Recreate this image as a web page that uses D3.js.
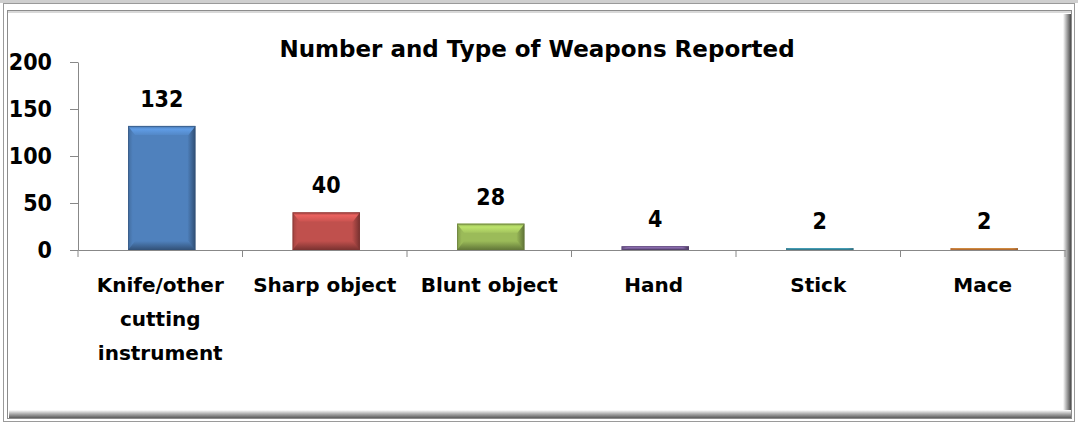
<!DOCTYPE html>
<html>
<head>
<meta charset="utf-8">
<script src="https://cdn.jsdelivr.net/npm/d3@7"></script>
<style>
  html, body { margin: 0; padding: 0; background: #ffffff; }
  svg { display: block; }
</style>
</head>
<body>
<svg id="chart" width="1078" height="424"></svg>
<script>
// Weapon categories and their reported counts
const categories = ["Knife/other cutting instrument", "Sharp object", "Blunt object", "Hand", "Stick", "Mace"];
const labelLines = [["Knife/other", "cutting", "instrument"], ["Sharp object"], ["Blunt object"], ["Hand"], ["Stick"], ["Mace"]];
const counts = [132, 40, 28, 4, 2, 2];
const yTicks = [0, 50, 100, 150, 200];
const barColors = ["#4F81BD", "#C0504D", "#9BBB59", "#8064A2", "#4BACC6", "#F79646"];
const chartTitle = "Number and Type of Weapons Reported";

const W = 1078, H = 424;
const svg = d3.select("#chart");
const defs = svg.append("defs");

// ---- frame ----
svg.append("rect").attr("x", 0).attr("y", 0).attr("width", W).attr("height", 3).attr("fill", "#cfcfcf");
svg.append("rect").attr("x", 3.5).attr("y", 3.5).attr("width", W - 7).attr("height", H - 6)
  .attr("fill", "#ffffff").attr("stroke", "#9a9a9a");

const shR = defs.append("linearGradient").attr("id", "shR").attr("x1", 0).attr("x2", 1).attr("y1", 0).attr("y2", 0);
shR.append("stop").attr("offset", "0%").attr("stop-color", "#ffffff");
shR.append("stop").attr("offset", "55%").attr("stop-color", "#9a9a9a");
shR.append("stop").attr("offset", "100%").attr("stop-color", "#4a4a4a");
const shB = defs.append("linearGradient").attr("id", "shB").attr("x1", 0).attr("x2", 0).attr("y1", 0).attr("y2", 1);
shB.append("stop").attr("offset", "0%").attr("stop-color", "#ffffff");
shB.append("stop").attr("offset", "55%").attr("stop-color", "#a0a0a0");
shB.append("stop").attr("offset", "100%").attr("stop-color", "#5a5a5a");

const panel = { x: 7, y: 10, w: 1064, h: 408 };
svg.append("rect").attr("x", panel.x + 0.5).attr("y", panel.y + 0.5)
  .attr("width", panel.w).attr("height", panel.h)
  .attr("fill", "#ffffff").attr("stroke", "#8c8c8c");
svg.append("rect").attr("x", panel.x + 1).attr("y", panel.y + 1).attr("width", panel.w - 1).attr("height", 2).attr("fill", "#d8d8d8");
svg.append("rect").attr("x", panel.x + panel.w - 8).attr("y", panel.y + 4).attr("width", 8).attr("height", panel.h - 4).attr("fill", "url(#shR)");
svg.append("rect").attr("x", panel.x + 2).attr("y", panel.y + panel.h - 8).attr("width", panel.w - 2).attr("height", 8).attr("fill", "url(#shB)");

// ---- scales ----
const plot = { left: 78, right: 1065, top: 62, bottom: 250 };
const x = d3.scaleBand().domain(categories).range([plot.left, plot.right]).padding(0);
const y = d3.scaleLinear().domain([0, 200]).range([plot.bottom, plot.top]);

const axisColor = "#888888";
const numFont = "'DejaVu Sans Condensed', 'DejaVu Sans', sans-serif";
const catFont = "'DejaVu Sans', sans-serif";

// ---- y axis ----
const yAxis = svg.append("g").attr("transform", `translate(${plot.left},0)`)
  .call(d3.axisLeft(y).tickValues(yTicks).tickSize(8).tickPadding(18).tickSizeOuter(0));
yAxis.select(".domain").attr("stroke", axisColor);
yAxis.selectAll(".tick line").attr("stroke", axisColor);
yAxis.selectAll(".tick text")
  .attr("fill", "#000").attr("font-family", numFont).attr("font-weight", "bold").attr("font-size", 23);

// ---- x axis ----
const xAxis = svg.append("g").attr("transform", `translate(0,${plot.bottom})`)
  .call(d3.axisBottom(x).tickSize(0).tickSizeOuter(0).tickFormat(""));
xAxis.select(".domain").attr("stroke", axisColor);
const boundaries = d3.range(categories.length + 1).map(i => plot.left + i * x.step());
xAxis.selectAll("line.sep").data(boundaries).join("line").attr("class", "sep")
  .attr("x1", d => d).attr("x2", d => d).attr("y1", 0).attr("y2", 7)
  .attr("stroke", axisColor);

// category labels
const catG = svg.append("g");
categories.forEach((c, i) => {
  const t = catG.append("text")
    .attr("x", x(c) + x.bandwidth() / 2)
    .attr("y", 292)
    .attr("text-anchor", "middle")
    .attr("font-family", catFont).attr("font-weight", "bold").attr("font-size", 20)
    .attr("fill", "#000");
  labelLines[i].forEach((ln, j) => {
    t.append("tspan").attr("x", x(c) + x.bandwidth() / 2).attr("dy", j === 0 ? 0 : 34).text(ln);
  });
});

// ---- bevelled bars ----
const barW = x.bandwidth() * 0.41;
function shade(col, k) { return d3.color(col)[k > 0 ? "brighter" : "darker"](Math.abs(k)).formatHex(); }

barColors.forEach((col, i) => {
  const g = defs.append("linearGradient").attr("id", "side" + i).attr("x1", 0).attr("x2", 1).attr("y1", 0).attr("y2", 0);
  g.append("stop").attr("offset", "0%").attr("stop-color", shade(col, -0.5));
  g.append("stop").attr("offset", "7%").attr("stop-color", col);
  g.append("stop").attr("offset", "88%").attr("stop-color", col);
  g.append("stop").attr("offset", "100%").attr("stop-color", shade(col, -1.4));
  const t = defs.append("linearGradient").attr("id", "top" + i).attr("x1", 0).attr("x2", 0).attr("y1", 0).attr("y2", 1);
  t.append("stop").attr("offset", "0%").attr("stop-color", shade(col, -0.3));
  t.append("stop").attr("offset", "35%").attr("stop-color", shade(col, 0.55));
  t.append("stop").attr("offset", "100%").attr("stop-color", shade(col, 0.15));
  const b = defs.append("linearGradient").attr("id", "bot" + i).attr("x1", 0).attr("x2", 0).attr("y1", 0).attr("y2", 1);
  b.append("stop").attr("offset", "0%").attr("stop-color", col);
  b.append("stop").attr("offset", "100%").attr("stop-color", shade(col, -1.3));
});

const bars = svg.append("g");
categories.forEach((c, i) => {
  const v = counts[i];
  const x0 = x(c) + (x.bandwidth() - barW) / 2 + 1.5;
  const y0 = y(v), h = y(0) - y(v);
  const col = barColors[i];
  const g = bars.append("g");
  g.append("rect").attr("x", x0).attr("y", y0).attr("width", barW).attr("height", h).attr("fill", "url(#side" + i + ")");
  const b = Math.min(9, h / 2);
  const inset = Math.min(7, barW / 4);
  // top bevel
  g.append("path")
    .attr("d", `M${x0},${y0} L${x0 + barW},${y0} L${x0 + barW - inset},${y0 + b} L${x0 + inset},${y0 + b} Z`)
    .attr("fill", "url(#top" + i + ")");
  // bottom bevel
  g.append("path")
    .attr("d", `M${x0},${y0 + h} L${x0 + barW},${y0 + h} L${x0 + barW - inset},${y0 + h - b} L${x0 + inset},${y0 + h - b} Z`)
    .attr("fill", "url(#bot" + i + ")");
  g.append("rect").attr("x", x0 + 0.5).attr("y", y0 + 0.5).attr("width", barW - 1).attr("height", Math.max(0, h - 1))
    .attr("fill", "none").attr("stroke", shade(col, -1.2)).attr("stroke-opacity", 0.6);

  // value label
  svg.append("text")
    .attr("x", x0 + barW / 2).attr("y", y0 - 19)
    .attr("text-anchor", "middle")
    .attr("font-family", numFont).attr("font-weight", "bold").attr("font-size", 23)
    .attr("fill", "#000").text(v);
});

// ---- title ----
svg.append("text")
  .attr("x", 537).attr("y", 57)
  .attr("text-anchor", "middle")
  .attr("font-family", catFont).attr("font-weight", "bold").attr("font-size", 23)
  .attr("fill", "#000").text(chartTitle);
</script>
</body>
</html>
